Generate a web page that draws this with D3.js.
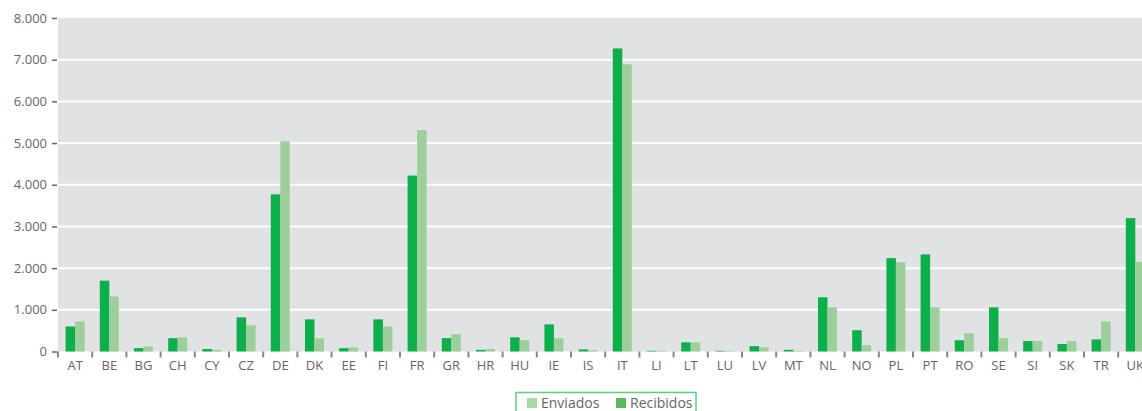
<!DOCTYPE html>
<html>
<head>
<meta charset="utf-8">
<script src="https://cdn.jsdelivr.net/npm/d3@7"></script>
<style>
  body { margin: 0; background: #fff; }
  svg { display: block; }
  text { font-family: "Open Sans", "Liberation Sans", sans-serif; fill: #666; }
</style>
</head>
<body>
<script>
// data
const countries = ["AT","BE","BG","CH","CY","CZ","DE","DK","EE","FI","FR","GR","HR","HU","IE","IS",
  "IT","LI","LT","LU","LV","MT","NL","NO","PL","PT","RO","SE","SI","SK","TR","UK"];
const recibidos = [600,1700,80,320,60,820,3770,770,80,770,4220,320,40,340,650,50,
  7270,15,220,15,130,40,1300,510,2240,2330,270,1060,250,180,290,3200];
const enviados = [720,1320,120,340,40,630,5040,320,100,600,5310,410,60,270,320,30,
  6890,15,220,15,100,16,1060,150,2140,1060,440,320,250,250,720,2150];
const seriesNames = ["Recibidos", "Enviados"];
const legendNames = ["Enviados", "Recibidos"];
const yTicks = [0,1000,2000,3000,4000,5000,6000,7000,8000];

function draw() {
  const width = 1142, height = 411;
  const left = 58, top = 18, bottom = 351.5;
  const step = 34.2;

  const svg = d3.select("body").append("svg")
    .attr("width", width).attr("height", height);

  const x = d3.scaleBand().domain(countries)
    .range([left, left + countries.length * step]).padding(0);
  const x1 = d3.scaleBand().domain(seriesNames)
    .range([x.bandwidth() / 2 - 9.5, x.bandwidth() / 2 + 9.5]);
  const y = d3.scaleLinear().domain([0, 8000]).range([bottom, top]);

  const colors = { Recibidos: "#0daf4b", Enviados: "#9ccf9a" };
  const legendColors = { Recibidos: "#5cb860", Enviados: "#a8d8a8" };

  // plot background
  svg.append("rect")
    .attr("x", left).attr("y", top)
    .attr("width", width - left).attr("height", bottom - top)
    .attr("fill", "#e1e2e4");

  // gridlines
  svg.append("g").selectAll("line")
    .data(yTicks.filter(d => d > 0 && d < 8000))
    .join("line")
    .attr("x1", left).attr("x2", width)
    .attr("y1", d => y(d)).attr("y2", d => y(d))
    .attr("stroke", "#fff").attr("stroke-width", 2);

  // bars
  const rows = countries.map((c, i) => ({ c, Recibidos: recibidos[i], Enviados: enviados[i] }));
  svg.append("g").selectAll("g")
    .data(rows)
    .join("g")
    .attr("transform", d => `translate(${x(d.c)},0)`)
    .selectAll("rect")
    .data(d => seriesNames.map(k => ({ k, v: d[k] })))
    .join("rect")
    .attr("x", d => x1(d.k))
    .attr("width", x1.bandwidth())
    .attr("y", d => y(d.v))
    .attr("height", d => y(0) - y(d.v))
    .attr("fill", d => colors[d.k]);

  // y axis
  const yAxis = svg.append("g")
    .attr("transform", `translate(${left - 1},0)`)
    .call(d3.axisLeft(y).tickValues(yTicks).tickSize(5).tickPadding(5)
      .tickFormat(d => d3.format(",")(d).replace(/,/g, ".")));
  yAxis.select(".domain").remove();
  yAxis.selectAll(".tick line").attr("stroke", "#666").attr("stroke-width", 1.5);
  yAxis.selectAll("text").attr("font-size", 13).attr("fill", "#666");

  // x axis
  const xAxis = svg.append("g")
    .attr("transform", `translate(0,${bottom})`)
    .call(d3.axisBottom(x).tickSize(0).tickPadding(9));
  xAxis.select(".domain").remove();
  xAxis.selectAll("text").attr("font-size", 13).attr("fill", "#666");
  svg.append("g").selectAll("line")
    .data(countries)
    .join("line")
    .attr("x1", d => x(d)).attr("x2", d => x(d))
    .attr("y1", bottom).attr("y2", bottom + 6)
    .attr("stroke", "#888").attr("stroke-width", 2);

  // legend
  const lg = svg.append("g");
  lg.append("rect")
    .attr("x", 516).attr("y", 392.5)
    .attr("width", 180).attr("height", 30)
    .attr("fill", "#fff").attr("stroke", "#5ccf80").attr("stroke-width", 1.5);
  const items = lg.selectAll("g.item")
    .data(legendNames)
    .join("g")
    .attr("class", "item")
    .attr("transform", (d, i) => `translate(${i === 0 ? 527 : 616},398)`);
  items.append("rect")
    .attr("width", 10).attr("height", 10)
    .attr("fill", d => legendColors[d]);
  items.append("text")
    .attr("x", 14).attr("y", 10)
    .attr("font-size", 14)
    .text(d => d);
}

draw();
</script>
</body>
</html>
